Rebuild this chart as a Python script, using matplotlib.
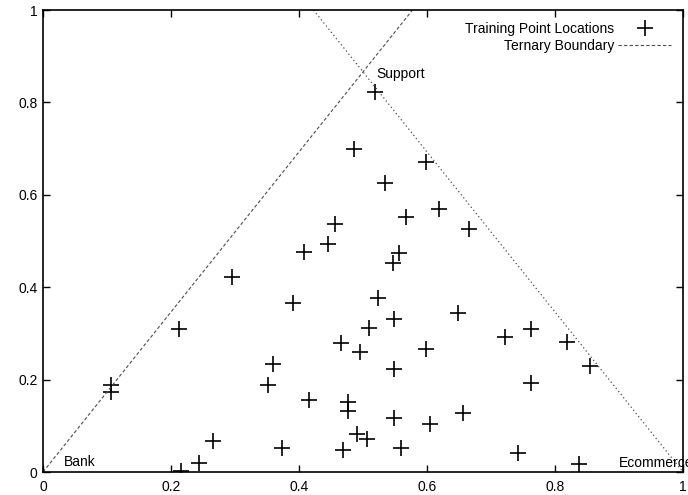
import numpy as np
import matplotlib
matplotlib.use('Agg')
import matplotlib.pyplot as plt

plt.rcParams['font.family'] = ['Liberation Sans', 'DejaVu Sans']

# training point locations (x, y) in the ternary projection
train_x = [0.519, 0.486, 0.598, 0.535, 0.618, 0.567, 0.665, 0.457, 0.446,
           0.408, 0.557, 0.547, 0.295, 0.523, 0.390, 0.649, 0.549, 0.509,
           0.213, 0.466, 0.496, 0.599, 0.722, 0.763, 0.818, 0.548, 0.360,
           0.855, 0.351, 0.762, 0.107, 0.106, 0.415, 0.476, 0.477, 0.656,
           0.549, 0.604, 0.490, 0.506, 0.266, 0.373, 0.468, 0.560, 0.742,
           0.243, 0.838, 0.215]
train_y = [0.823, 0.699, 0.670, 0.626, 0.569, 0.551, 0.525, 0.536, 0.493,
           0.476, 0.473, 0.452, 0.423, 0.376, 0.366, 0.345, 0.332, 0.311,
           0.310, 0.279, 0.260, 0.267, 0.292, 0.309, 0.282, 0.222, 0.234,
           0.230, 0.188, 0.192, 0.188, 0.174, 0.156, 0.151, 0.131, 0.128,
           0.117, 0.103, 0.082, 0.071, 0.068, 0.053, 0.048, 0.051, 0.042,
           0.019, 0.017, 0.003]

# corner names of the ternary triangle
corner_names = ['Bank', 'Support', 'Ecommerce']
corner_x = [0.032, 0.521, 0.900]
corner_y = [0.021, 0.862, 0.020]

h = np.sqrt(3.0)
left_x = [0.0, 1.0 / h]
left_y = [0.0, 1.0]
right_x = [1.0 - 1.0 / h, 1.0]
right_y = [1.0, 0.0]

fig = plt.figure(figsize=(6.88, 4.95), dpi=100)
ax = fig.add_axes([43 / 688, 1 - 472 / 495, 640 / 688, 462 / 495])

ax.plot(train_x, train_y, linestyle='none', marker='+', color='black',
        markersize=12, markeredgewidth=1.2, label='Training Point Locations')
ax.plot(left_x, left_y, color='0.3', linewidth=0.8, dashes=(3, 2),
        label='Ternary Boundary')
ax.plot(right_x, right_y, color='0.3', linewidth=0.9, dashes=(1, 2.2))

# the right-hand corner name runs past the figure edge
for name, cx, cy in zip(corner_names, corner_x, corner_y):
    ax.text(cx, cy, name, fontsize=10, ha='left', va='center', clip_on=False)

ax.set_xlim(0, 1)
ax.set_ylim(0, 1)
ticks = [0, 0.2, 0.4, 0.6, 0.8, 1]
ax.set_xticks(ticks)
ax.set_yticks(ticks)
ax.set_xticklabels(['0', '0.2', '0.4', '0.6', '0.8', '1'])
ax.set_yticklabels(['0', '0.2', '0.4', '0.6', '0.8', '1'])
ax.tick_params(direction='in', top=True, right=True, length=5, width=1,
               labelsize=10)
ax.tick_params(axis='x', pad=6)
ax.tick_params(axis='y', pad=4)
for sp in ax.spines.values():
    sp.set_linewidth(1.2)

leg = ax.legend(loc='upper right', frameon=False, markerfirst=False,
                fontsize=10, handlelength=3.8, handletextpad=0.3,
                labelspacing=0.25, borderaxespad=0.45,
                bbox_to_anchor=(1.0, 1.0))

fig.savefig('out.png', dpi=100)
